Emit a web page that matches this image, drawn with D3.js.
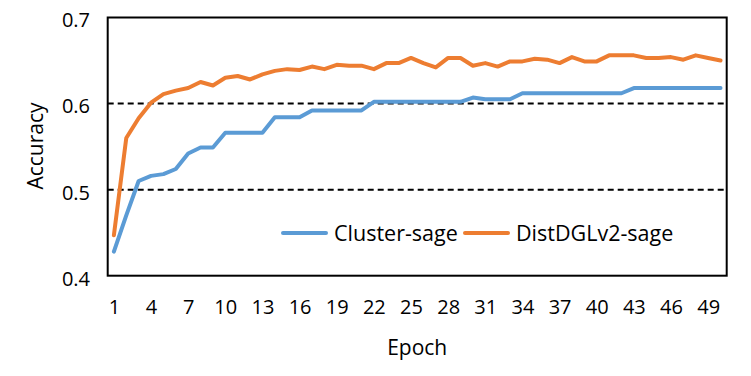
<!DOCTYPE html>
<meta charset="utf-8">
<style>
    body { margin: 0; background: #fff; }
    svg text { font-family: "Open Sans", sans-serif; fill: #000; }
    .tick-label { font-size: 20px; }
    .axis-title { font-size: 21px; }
    .legend text { font-size: 21.5px; }
</style>
<svg class="chart"></svg>
<script src="https://cdnjs.cloudflare.com/ajax/libs/d3/7.8.5/d3.min.js"></script>
<script>
    var epochs = d3.range(1, 51);
    var clusterSage = [0.428, 0.470, 0.510, 0.516, 0.518, 0.524, 0.542, 0.549, 0.549, 0.566,
        0.566, 0.566, 0.566, 0.584, 0.584, 0.584, 0.592, 0.592, 0.592, 0.592,
        0.592, 0.602, 0.602, 0.602, 0.602, 0.602, 0.602, 0.602, 0.602, 0.607,
        0.605, 0.605, 0.605, 0.612, 0.612, 0.612, 0.612, 0.612, 0.612, 0.612,
        0.612, 0.612, 0.618, 0.618, 0.618, 0.618, 0.618, 0.618, 0.618, 0.618];
    var distDGL = [0.447, 0.560, 0.583, 0.601, 0.611, 0.615, 0.618, 0.625, 0.621, 0.630,
        0.632, 0.628, 0.634, 0.638, 0.640, 0.639, 0.643, 0.640, 0.645, 0.644,
        0.644, 0.640, 0.647, 0.647, 0.653, 0.647, 0.642, 0.653, 0.653, 0.644,
        0.647, 0.643, 0.649, 0.649, 0.652, 0.651, 0.647, 0.654, 0.649, 0.649,
        0.656, 0.656, 0.656, 0.653, 0.653, 0.654, 0.651, 0.656, 0.653, 0.650];
    var yTicks = [0.4, 0.5, 0.6, 0.7];
    var gridValues = [0.5, 0.6];
    var series = [
        { name: "Cluster-sage", values: clusterSage, color: "#5B9BD5" },
        { name: "DistDGLv2-sage", values: distDGL, color: "#ED7D31" }
    ];

    var width = 751, height = 376;
    var margin = { top: 17.5, right: 24.3, bottom: 100.3, left: 107.7 };
    var plotW = width - margin.left - margin.right,
        plotH = height - margin.top - margin.bottom;

    var svg = d3.select(".chart")
        .attr("width", width)
        .attr("height", height);

    var x = d3.scalePoint()
        .domain(epochs)
        .range([0, plotW])
        .padding(0.5);

    var y = d3.scaleLinear()
        .domain([0.4, 0.7])
        .range([plotH, 0]);

    var g = svg.append("g")
        .attr("transform", "translate(" + margin.left + "," + margin.top + ")");

    // dashed gridlines
    g.selectAll(".grid")
        .data(gridValues)
        .enter().append("line")
        .attr("x1", 0)
        .attr("x2", plotW)
        .attr("y1", function (d) { return y(d); })
        .attr("y2", function (d) { return y(d); })
        .attr("stroke", "#000")
        .attr("stroke-width", 2)
        .attr("stroke-dasharray", "6,4");

    // lines
    var line = d3.line()
        .x(function (d, i) { return x(epochs[i]); })
        .y(function (d) { return y(d); });

    g.selectAll(".series")
        .data(series)
        .enter().append("path")
        .attr("d", function (d) { return line(d.values); })
        .attr("fill", "none")
        .attr("stroke", function (d) { return d.color; })
        .attr("stroke-width", 4)
        .attr("stroke-linejoin", "round")
        .attr("stroke-linecap", "round");

    // plot frame
    g.append("rect")
        .attr("width", plotW)
        .attr("height", plotH)
        .attr("fill", "none")
        .attr("stroke", "#000")
        .attr("stroke-width", 2);

    // y tick labels
    var yAxis = d3.axisLeft(y)
        .tickValues(yTicks)
        .tickFormat(d3.format(".1f"))
        .tickSize(0)
        .tickPadding(17.7);
    var ya = g.append("g").call(yAxis);
    ya.select(".domain").remove();
    ya.selectAll("text").attr("class", "tick-label").attr("font-family", null).attr("font-size", null)
        .attr("dy", "0.47em");

    // x tick labels
    var xAxis = d3.axisBottom(x)
        .tickValues(epochs.filter(function (d) { return (d - 1) % 3 === 0; }))
        .tickSize(0)
        .tickPadding(24);
    var xa = g.append("g")
        .attr("transform", "translate(0," + plotH + ")")
        .call(xAxis);
    xa.select(".domain").remove();
    xa.selectAll("text").attr("class", "tick-label").attr("font-family", null).attr("font-size", null);

    // axis titles
    svg.append("text")
        .attr("class", "axis-title")
        .attr("text-anchor", "middle")
        .attr("transform", "translate(43,146) rotate(-90)")
        .text("Accuracy");

    svg.append("text")
        .attr("class", "axis-title")
        .attr("text-anchor", "middle")
        .attr("x", margin.left + plotW / 2)
        .attr("y", 355)
        .text("Epoch");

    // legend
    var legendX = [283, 465];
    var legend = svg.selectAll(".legend")
        .data(series)
        .enter().append("g")
        .attr("class", "legend")
        .attr("transform", function (d, i) { return "translate(" + legendX[i] + ",233)"; });

    legend.append("line")
        .attr("x1", 0)
        .attr("x2", 43)
        .attr("stroke", function (d) { return d.color; })
        .attr("stroke-width", 4)
        .attr("stroke-linecap", "round");

    legend.append("text")
        .attr("x", 51)
        .attr("dy", "0.35em")
        .text(function (d) { return d.name; });
</script>
